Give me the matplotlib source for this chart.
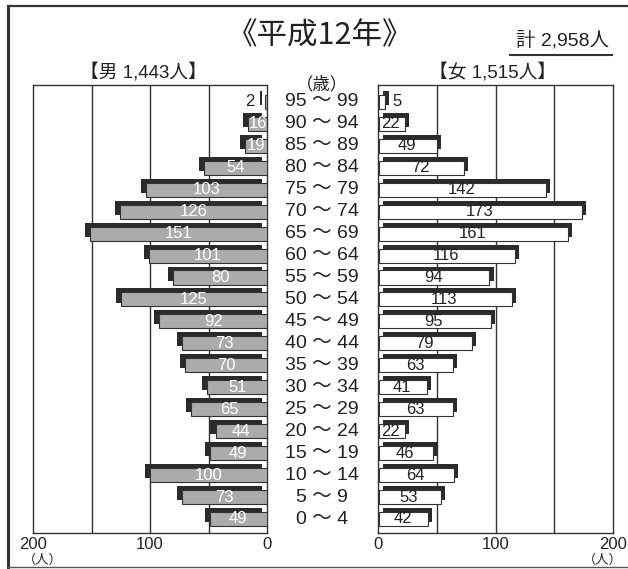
import matplotlib
matplotlib.use("Agg")
import matplotlib.pyplot as plt
from matplotlib.lines import Line2D
from matplotlib import font_manager

installed = {f.name for f in font_manager.fontManager.ttflist}
narrow = "Liberation Sans Narrow" if "Liberation Sans Narrow" in installed else "Liberation Sans"
FONTS = [narrow, 'Noto Sans CJK JP', 'DejaVu Sans']
CJK = ['Noto Sans CJK JP', 'DejaVu Sans']
plt.rcParams['font.family'] = FONTS

# Population by 5-year age group (index 0 = 0~4 ... 19 = 95~99)
age_groups = ["0 ～ 4", "5 ～ 9", "10 ～ 14", "15 ～ 19", "20 ～ 24", "25 ～ 29",
              "30 ～ 34", "35 ～ 39", "40 ～ 44", "45 ～ 49", "50 ～ 54", "55 ～ 59",
              "60 ～ 64", "65 ～ 69", "70 ～ 74", "75 ～ 79", "80 ～ 84", "85 ～ 89",
              "90 ～ 94", "95 ～ 99"]
male = [49, 73, 100, 49, 44, 65, 51, 70, 73, 92, 125, 80, 101, 151, 126, 103, 54, 19, 16, 2]
female = [42, 53, 64, 46, 22, 63, 41, 63, 79, 95, 113, 94, 116, 161, 173, 142, 72, 49, 22, 5]
x_ticks = [0, 100, 200]

title = "《平成12年》"
total_text = "計 2,958人"
male_title = "【男 1,443人】"
female_title = "【女 1,515人】"
age_unit = "（歳）"
count_unit = "（人）"

W, H = 628, 569
fig = plt.figure(figsize=(W / 100, H / 100), dpi=100)


def ax_rect(x0, x1, y0, y1):
    return [x0 / W, 1 - y1 / H, (x1 - x0) / W, (y1 - y0) / H]


ax_m = fig.add_axes(ax_rect(33, 267, 85, 533))
ax_f = fig.add_axes(ax_rect(378, 613, 85, 533))

n = len(age_groups)
ylim = (-0.64, n - 1 + 0.77)
bar_h = 0.64
dy = 0.18    # shadow lift (rows)
dx = 4.3     # shadow shift (people units)
shadow_col = "#2b2b2b"
text_col = "#222222"

for ax in (ax_m, ax_f):
    ax.set_ylim(*ylim)
    ax.set_yticks([])
    for v in (50, 100, 150):
        ax.axvline(v, color="#333333", lw=1.0, zorder=0)
    for s in ax.spines.values():
        s.set_color("#333333")
        s.set_linewidth(1.0)
    ax.set_xticks(x_ticks)
    ax.tick_params(axis="x", length=0, labelsize=12, colors=text_col, pad=3)

ax_m.set_xlim(200, 0)
ax_f.set_xlim(0, 200)

ys = list(range(n))
val_fs = 12

# Male: dark shadow offset outward/up, grey bar in front
ax_m.barh([y + dy for y in ys], male, height=bar_h, left=dx,
          color=shadow_col, zorder=2)
ax_m.barh(ys, male, height=bar_h, color="#ababab", edgecolor="#333333",
          linewidth=0.8, zorder=3)
for y, v in zip(ys, male):
    if v < 10:
        ax_m.text(v + dx + 4, y, str(v), ha="right", va="center", fontsize=val_fs,
                  color=text_col, zorder=4)
    else:
        ax_m.text(v / 2, y, str(v), ha="center", va="center", fontsize=val_fs,
                  color="white", zorder=4)

# Female: dark shadow offset outward/up, white bar in front
ax_f.barh([y + dy for y in ys], female, height=bar_h, left=dx,
          color=shadow_col, zorder=2)
ax_f.barh(ys, female, height=bar_h, left=0.8, color="white", edgecolor="#333333",
          linewidth=0.8, zorder=3)
for y, v in zip(ys, female):
    if v < 10:
        ax_f.text(v + dx + 3, y, str(v), ha="left", va="center", fontsize=val_fs,
                  color=text_col, zorder=4)
    else:
        ax_f.text(v / 2, y, str(v), ha="center", va="center", fontsize=val_fs,
                  color=text_col, zorder=4)

# Age group labels in the central column
for i, lab in enumerate(age_groups):
    yp = 519 - i * (519 - 102) / (n - 1)
    fig.text(322 / W, 1 - yp / H, lab, ha="center", va="center",
             fontsize=14, color=text_col)

fig.text(322 / W, 1 - 84 / H, age_unit, ha="center", va="center",
         fontsize=12.5, color=text_col, family=CJK)

# Titles
fig.text(320 / W, 1 - 36 / H, title, ha="center", va="center",
         fontsize=22, color=text_col, family=CJK)
fig.text(562 / W, 1 - 40 / H, total_text, ha="center", va="center",
         fontsize=14, color=text_col)
fig.add_artist(Line2D([510 / W, 612 / W], [1 - 55 / H, 1 - 55 / H],
                      color="#333333", lw=1.5))
fig.text(143 / W, 1 - 72 / H, male_title, ha="center", va="center",
         fontsize=13.5, color=text_col)
fig.text(493 / W, 1 - 72 / H, female_title, ha="center", va="center",
         fontsize=13.5, color=text_col)

# Unit labels under the 200 ticks
fig.text(43 / W, 1 - 560 / H, count_unit, ha="center", va="center",
         fontsize=9.5, color=text_col, family=CJK)
fig.text(603 / W, 1 - 560 / H, count_unit, ha="center", va="center",
         fontsize=9.5, color=text_col, family=CJK)

# Outer frame (top, left, bottom)
fig.add_artist(Line2D([8 / W, 1.0], [1 - 6 / H, 1 - 6 / H], color="#333333", lw=1.6))
fig.add_artist(Line2D([8 / W, 8 / W], [1 - 6 / H, 1 - 567 / H], color="#333333", lw=2.2))
fig.add_artist(Line2D([8 / W, 1.0], [1 - 567 / H, 1 - 567 / H], color="#555555", lw=1.0))

fig.savefig("out.png", dpi=100, facecolor="white")
